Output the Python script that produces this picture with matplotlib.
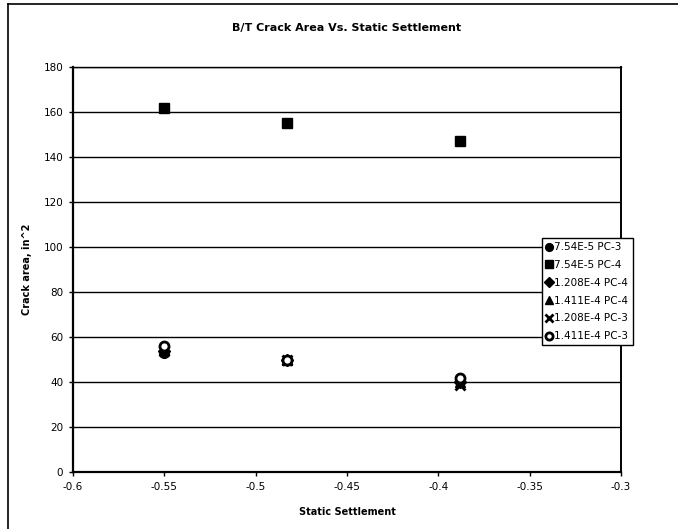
import matplotlib
matplotlib.use("Agg")
import matplotlib.pyplot as plt
from matplotlib.lines import Line2D

plt.rcParams['font.family'] = ['DejaVu Sans']

# Static settlement (x) for the three load cases
settlement = [-0.55, -0.483, -0.388]

series_names = ["7.54E-5 PC-3", "7.54E-5 PC-4", "1.208E-4 PC-4",
                "1.411E-4 PC-4", "1.208E-4 PC-3", "1.411E-4 PC-3"]

# Crack area (in^2) per series
area_754_pc3 = [53.0, 50.0, 41.0]
area_754_pc4 = [162.0, 155.0, 147.0]
area_1208_pc4 = [54.0, 50.0, 40.0]
area_1411_pc4 = [55.0, 50.0, 40.0]
area_1208_pc3 = [54.0, 50.0, 38.5]
area_1411_pc3 = [56.0, 50.0, 42.0]

series_values = [area_754_pc3, area_754_pc4, area_1208_pc4,
                 area_1411_pc4, area_1208_pc3, area_1411_pc3]

x_ticks = [-0.6, -0.55, -0.5, -0.45, -0.4, -0.35, -0.3]
x_tick_labels = ["-0.6", "-0.55", "-0.5", "-0.45", "-0.4", "-0.35", "-0.3"]
y_ticks = [0, 20, 40, 60, 80, 100, 120, 140, 160, 180]

styles = [
    dict(marker='o', color='black', markersize=7, markerfacecolor='black'),
    dict(marker='s', color='black', markersize=7.5, markerfacecolor='black'),
    dict(marker='D', color='black', markersize=6, markerfacecolor='black'),
    dict(marker='^', color='black', markersize=7, markerfacecolor='black'),
    dict(marker='x', color='black', markersize=7, markeredgewidth=2),
    dict(marker='o', color='black', markersize=6.5, markerfacecolor='white',
         markeredgewidth=2),
]

fig = plt.figure(figsize=(6.78, 5.29), dpi=100)
fig.patch.set_facecolor('white')

# chart-area frame (top and left edges)
fig.add_artist(Line2D([8 / 678, 8 / 678], [0, 1 - 4 / 529],
                      transform=fig.transFigure, color='black', lw=1.2))
fig.add_artist(Line2D([8 / 678, 1], [1 - 4 / 529, 1 - 4 / 529],
                      transform=fig.transFigure, color='black', lw=1.2))

ax = fig.add_axes([73 / 678, 1 - 472 / 529, (621 - 73) / 678, (472 - 67) / 529])

handles = []
for name, vals, st in zip(series_names, series_values, styles):
    h, = ax.plot(settlement, vals, linestyle='none', label=name, zorder=3, **st)
    handles.append(h)

ax.set_xlim(-0.6, -0.3)
ax.set_ylim(0, 180)
ax.set_xticks(x_ticks)
ax.set_xticklabels(x_tick_labels)
ax.set_yticks(y_ticks)
ax.yaxis.grid(True, color='black', linewidth=1.0)
ax.set_axisbelow(True)

for side in ['left', 'bottom', 'right', 'top']:
    ax.spines[side].set_color('black')
ax.spines['left'].set_linewidth(1.6)
ax.spines['bottom'].set_linewidth(1.6)
ax.spines['right'].set_linewidth(1.4)
ax.spines['top'].set_linewidth(1.0)

ax.tick_params(axis='both', direction='out', length=3, width=1,
               labelsize=7.5, pad=4, colors='black')

ax.set_title("B/T Crack Area Vs. Static Settlement", fontsize=8,
             fontweight='bold', pad=26)
ax.set_xlabel("Static Settlement", fontsize=7, fontweight='bold', labelpad=11)
ax.set_ylabel("Crack area, in^2", fontsize=7, fontweight='bold', labelpad=8)

leg = ax.legend(handles=handles, loc='upper left',
                bbox_to_anchor=(542 / 678, 1 - 238 / 529),
                bbox_transform=fig.transFigure, fontsize=7.5, frameon=True,
                fancybox=False, framealpha=1, edgecolor='black',
                handlelength=0.6, handletextpad=0.2, borderpad=0.4,
                labelspacing=0.75, borderaxespad=0, markerscale=0.8)
leg.get_frame().set_linewidth(1.0)

fig.savefig("out.png", dpi=100, facecolor='white')
